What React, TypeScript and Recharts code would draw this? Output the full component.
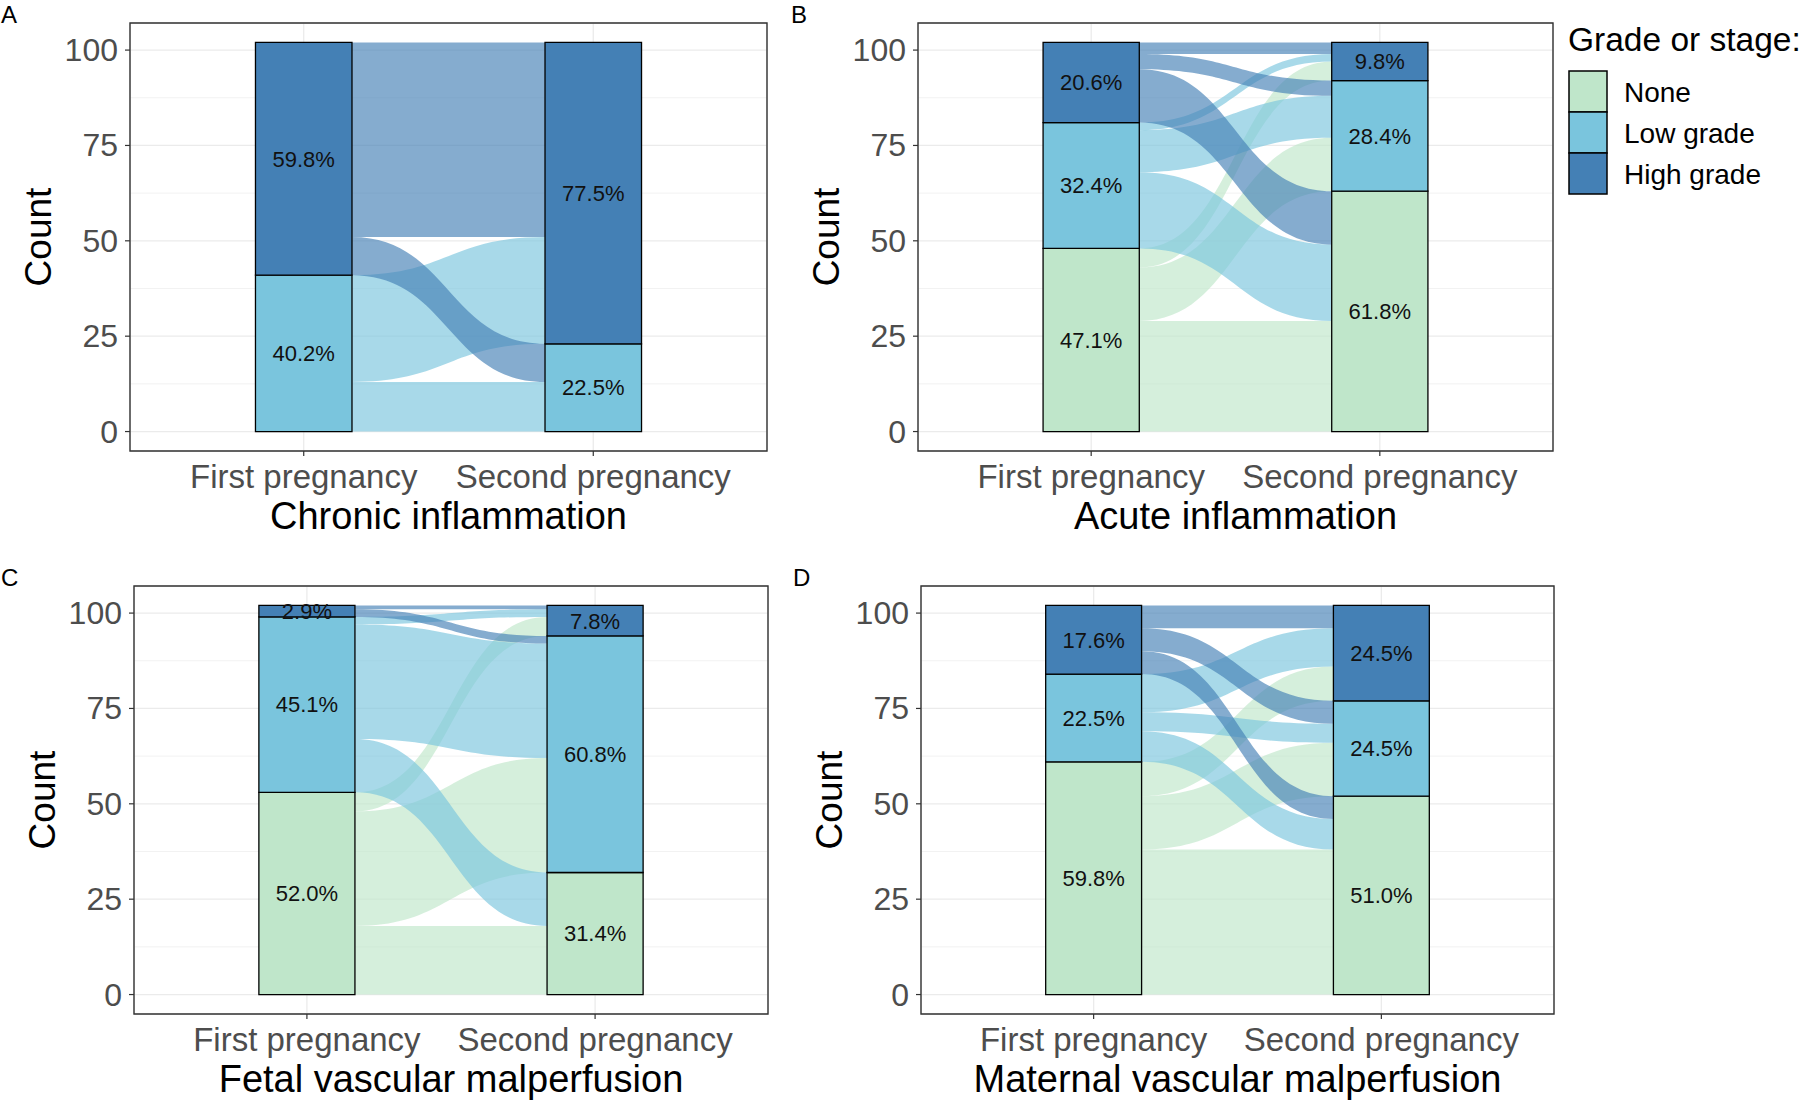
import React from 'react';
import { ComposedChart, Area, XAxis, YAxis, CartesianGrid, ReferenceArea } from 'recharts';

// ---------------- data ----------------
const categories = ['First pregnancy', 'Second pregnancy'];
const grades = ['None', 'Low grade', 'High grade'];
const yTicks = [0, 25, 50, 75, 100];
const minorTicks = [12.5, 37.5, 62.5, 87.5];

// Panel A – Chronic inflammation (counts per grade: None, Low, High)
const chronicFirst = [0, 41, 61];
const chronicSecond = [0, 23, 79];
const chronicFlows = [
  [0, 0, 0],
  [0, 13, 28],
  [0, 10, 51],
];

// Panel B – Acute inflammation
const acuteFirst = [48, 33, 21];
const acuteSecond = [63, 29, 10];
const acuteFlows = [
  [29, 14, 5],
  [20, 11, 2],
  [14, 4, 3],
];

// Panel C – Fetal vascular malperfusion
const fetalFirst = [53, 46, 3];
const fetalSecond = [32, 62, 8];
const fetalFlows = [
  [18, 30, 5],
  [14, 30, 2],
  [0, 2, 1],
];

// Panel D – Maternal vascular malperfusion
const maternalFirst = [61, 23, 18];
const maternalSecond = [52, 25, 25];
const maternalFlows = [
  [38, 14, 9],
  [8, 5, 10],
  [6, 6, 6],
];

// ---------------- styles ----------------
const FONT = '"Liberation Sans", Arial, Helvetica, sans-serif';
const gradeColors = ['#BFE6CA', '#7AC5DD', '#4480B5'];
const X_DOMAIN: [number, number] = [0.4, 2.6];
const Y_DOMAIN: [number, number] = [-5.1, 107.1];
const HALF = 1 / 6;

type Spec = { letter: string; title: string; first: number[]; second: number[]; flows: number[][] };
type Layout = {
  left: number; top: number; width: number; height: number;
  yAxisWidth: number; marginTop: number; marginRight: number; xAxisHeight: number;
};

const panels: { spec: Spec; layout: Layout }[] = [
  {
    spec: { letter: 'A', title: 'Chronic inflammation', first: chronicFirst, second: chronicSecond, flows: chronicFlows },
    layout: { left: 0, top: 0, width: 790, height: 545, yAxisWidth: 130, marginTop: 23, marginRight: 23, xAxisHeight: 94 },
  },
  {
    spec: { letter: 'B', title: 'Acute inflammation', first: acuteFirst, second: acuteSecond, flows: acuteFlows },
    layout: { left: 790, top: 0, width: 790, height: 545, yAxisWidth: 128, marginTop: 23, marginRight: 27, xAxisHeight: 94 },
  },
  {
    spec: { letter: 'C', title: 'Fetal vascular malperfusion', first: fetalFirst, second: fetalSecond, flows: fetalFlows },
    layout: { left: 0, top: 560, width: 790, height: 541, yAxisWidth: 134, marginTop: 26, marginRight: 22, xAxisHeight: 87 },
  },
  {
    spec: { letter: 'D', title: 'Maternal vascular malperfusion', first: maternalFirst, second: maternalSecond, flows: maternalFlows },
    layout: { left: 790, top: 560, width: 790, height: 541, yAxisWidth: 131, marginTop: 26, marginRight: 26, xAxisHeight: 87 },
  },
];

// smooth "bump" curve (sigmoid between consecutive points)
function bumpCurve(context: any) {
  let line = NaN;
  let point = 0;
  let x0 = 0;
  let y0 = 0;
  return {
    areaStart() { line = 0; },
    areaEnd() { line = NaN; },
    lineStart() { point = 0; },
    lineEnd() {
      if (line || (line !== 0 && point === 1)) context.closePath();
      line = 1 - line;
    },
    point(x: number, y: number) {
      x = +x; y = +y;
      if (point === 0) {
        point = 1;
        if (line) context.lineTo(x, y); else context.moveTo(x, y);
      } else {
        point = 2;
        const mx = (x0 + x) / 2;
        context.bezierCurveTo(mx, y0, mx, y, x, y);
      }
      x0 = x; y0 = y;
    },
  };
}

function build(spec: Spec) {
  const { first, second, flows } = spec;
  const total = first.reduce((a, b) => a + b, 0);
  // strata
  const strata: { key: string; x1: number; x2: number; y1: number; y2: number; color: string; label: string }[] = [];
  [first, second].forEach((counts, a) => {
    let acc = 0;
    counts.forEach((c, g) => {
      if (c > 0) {
        strata.push({
          key: `s${a}-${g}`,
          x1: a + 1 - HALF,
          x2: a + 1 + HALF,
          y1: acc,
          y2: acc + c,
          color: gradeColors[g],
          label: `${((c / total) * 100).toFixed(1)}%`,
        });
      }
      acc += c;
    });
  });
  // flow positions: left side ordered by destination, right side by source
  const leftPos: number[][][] = [[], [], []];
  const rightPos: number[][][] = [[], [], []];
  let acc = 0;
  for (let i = 0; i < 3; i++) {
    for (let j = 0; j < 3; j++) {
      leftPos[i][j] = [acc, acc + flows[i][j]];
      acc += flows[i][j];
    }
  }
  acc = 0;
  for (let j = 0; j < 3; j++) {
    for (let i = 0; i < 3; i++) {
      rightPos[i][j] = [acc, acc + flows[i][j]];
      acc += flows[i][j];
    }
  }
  const row0: any = { x: 1 + HALF };
  const row1: any = { x: 2 - HALF };
  const flowKeys: { key: string; color: string }[] = [];
  for (let i = 0; i < 3; i++) {
    for (let j = 0; j < 3; j++) {
      if (flows[i][j] > 0) {
        const key = `f${i}${j}`;
        row0[key] = leftPos[i][j];
        row1[key] = rightPos[i][j];
        flowKeys.push({ key, color: gradeColors[i] });
      }
    }
  }
  return { data: [row0, row1], strata, flowKeys };
}

const XTick = (props: any) => {
  const { x, y, payload } = props;
  const label = categories[Math.round(payload.value) - 1];
  return (
    <text x={x} y={y + 32} textAnchor="middle" fontSize={33} fill="#4D4D4D" fontFamily={FONT}>
      {label}
    </text>
  );
};

const YTick = (props: any) => {
  const { x, y, payload } = props;
  return (
    <text x={x} y={y + 11} textAnchor="end" fontSize={32} fill="#4D4D4D" fontFamily={FONT}>
      {payload.value}
    </text>
  );
};

function Panel({ spec, layout }: { spec: Spec; layout: Layout }) {
  const { data, strata, flowKeys } = build(spec);
  return (
    <div style={{ position: 'absolute', left: layout.left, top: layout.top, width: layout.width, height: layout.height }}>
      <ComposedChart
        width={layout.width}
        height={layout.height}
        data={data}
        margin={{ top: layout.marginTop, right: layout.marginRight, bottom: 0, left: 0 }}
      >
        <CartesianGrid yAxisId="minor" vertical={false} stroke="#EBEBEB" strokeWidth={0.7} />
        <CartesianGrid stroke="#EBEBEB" strokeWidth={1.3} />
        <XAxis
          dataKey="x"
          type="number"
          domain={X_DOMAIN}
          ticks={[1, 2]}
          allowDataOverflow
          interval={0}
          height={layout.xAxisHeight}
          axisLine={false}
          tickSize={5}
          tickMargin={0}
          tickLine={{ stroke: '#333', strokeWidth: 1.2 }}
          tick={<XTick />}
          label={{
            content: (p: any) => {
              const vb = p.viewBox || {};
              return (
                <text x={vb.x + vb.width / 2} y={vb.y + 78} textAnchor="middle" fontSize={38} fill="#000" fontFamily={FONT}>
                  {spec.title}
                </text>
              );
            },
          }}
        />
        <YAxis
          type="number"
          domain={Y_DOMAIN}
          ticks={yTicks}
          allowDataOverflow
          interval={0}
          width={layout.yAxisWidth}
          axisLine={false}
          tickSize={5}
          tickMargin={7}
          tickLine={{ stroke: '#333', strokeWidth: 1.2 }}
          tick={<YTick />}
          label={{
            content: (p: any) => {
              const vb = p.viewBox || {};
              const cx = vb.x + layout.yAxisWidth - 79;
              const cy = vb.y + vb.height / 2;
              return (
                <text x={cx} y={cy} transform={`rotate(-90 ${cx} ${cy})`} textAnchor="middle" fontSize={37} fill="#000" fontFamily={FONT}>
                  Count
                </text>
              );
            },
          }}
        />
        <YAxis yAxisId="minor" hide type="number" domain={Y_DOMAIN} ticks={minorTicks} allowDataOverflow interval={0} />
        {flowKeys.map((f) => (
          <Area
            key={f.key}
            dataKey={f.key}
            type={bumpCurve as any}
            fill={f.color}
            fillOpacity={0.65}
            stroke="none"
            dot={false}
            activeDot={false}
            isAnimationActive={false}
          />
        ))}
        {strata.map((s) => (
          <ReferenceArea
            key={s.key}
            x1={s.x1}
            x2={s.x2}
            y1={s.y1}
            y2={s.y2}
            fill={s.color}
            fillOpacity={1}
            stroke="#000"
            strokeWidth={1.3}
            label={{ value: s.label, position: 'center', fill: '#111', fontSize: 22, fontFamily: FONT }}
          />
        ))}
        <ReferenceArea x1={X_DOMAIN[0]} x2={X_DOMAIN[1]} y1={Y_DOMAIN[0]} y2={Y_DOMAIN[1]} fill="none" stroke="#333" strokeWidth={1.4} />
      </ComposedChart>
    </div>
  );
}

function Legend() {
  const rows = [71, 112, 153];
  return (
    <svg style={{ position: 'absolute', left: 1560, top: 0 }} width={240} height={220}>
      <text x={8} y={51} fontSize={33.5} fill="#000" fontFamily={FONT}>Grade or stage:</text>
      {grades.map((g, i) => (
        <g key={g}>
          <rect x={9} y={rows[i]} width={38} height={41} fill={gradeColors[i]} stroke="#000" strokeWidth={1.5} />
          <text x={64} y={rows[i] + 31} fontSize={28} fill="#000" fontFamily={FONT}>{g}</text>
        </g>
      ))}
    </svg>
  );
}

const letters = [
  { t: 'A', x: 1, y: 23 },
  { t: 'B', x: 791, y: 23 },
  { t: 'C', x: 1, y: 586 },
  { t: 'D', x: 793, y: 586 },
];

export default function App() {
  return (
    <div style={{ position: 'absolute', left: 0, top: 0, width: 1800, height: 1101, background: '#fff', fontFamily: FONT, overflow: 'hidden' }}>
      {panels.map((p) => (
        <Panel key={p.spec.letter} spec={p.spec} layout={p.layout} />
      ))}
      <Legend />
      <svg style={{ position: 'absolute', left: 0, top: 0 }} width={1800} height={1101} pointerEvents="none">
        {letters.map((l) => (
          <text key={l.t} x={l.x} y={l.y} fontSize={24} fill="#000" fontFamily={FONT}>{l.t}</text>
        ))}
      </svg>
    </div>
  );
}
